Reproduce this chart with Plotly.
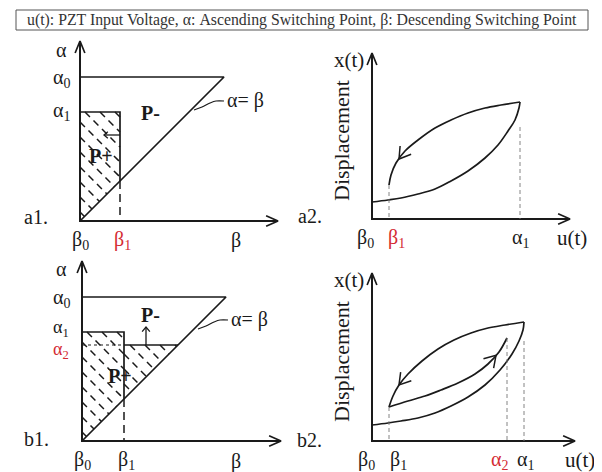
import numpy as np
import plotly.graph_objects as go

W, H = 602, 472
FONT = "Liberation Serif, Times New Roman, serif"
RED = "#d42a32"
INK = "#1a1a1a"

TITLE = "u(t): PZT Input Voltage, α: Ascending Switching Point, β: Descending Switching Point"

# ---------------- data (diagram units) ----------------
# a1 : Preisach plane after descending from alpha1 to beta1
A1_ALPHA = [144, 109]            # alpha0, alpha1
A1_BETA = [0, 40]                # beta0, beta1
A1_AXIS = [198, 180]             # beta-axis length, alpha-axis length

# b1 : Preisach plane after ascending again to alpha2
B1_ALPHA = [144, 109, 96]        # alpha0, alpha1, alpha2
B1_BETA = [0, 42]                # beta0, beta1
B1_AXIS = [199, 180]

# a2 : displacement vs input voltage (major ascending branch + descent)
A2_LOW_U = [0, 16, 29, 46, 63, 79, 96, 113, 126, 136, 143, 147, 148]
A2_LOW_X = [17, 19, 21, 25, 30, 38, 48, 61, 74, 88, 99, 111, 117]
A2_DESC_U = [148, 129, 113, 96, 79, 63, 46, 33, 24, 19, 17]
A2_DESC_X = [117, 114, 111, 106, 99, 91, 79, 68, 56, 44, 34]
A2_TICKS = [0, 17, 148]          # beta0, beta1, alpha1
A2_AXIS = [198, 166]

# b2 : displacement vs input voltage (minor loop)
B2_LOW_U = [0, 16, 29, 46, 63, 79, 96, 113, 128, 140, 147, 151, 152]
B2_LOW_X = [16, 18, 20, 23, 28, 35, 44, 56, 71, 87, 100, 111, 119]
B2_DESC_U = [152, 133, 116, 99, 82, 66, 50, 36, 27, 21, 17]
B2_DESC_X = [119, 116, 113, 108, 101, 92, 80, 67, 56, 45, 34]
B2_ASC_U = [17, 36, 53, 69, 86, 103, 116, 127, 135]
B2_ASC_X = [34, 40, 45, 51, 58, 67, 77, 89, 103]
B2_TICKS = [0, 17, 135, 152]     # beta0, beta1, alpha2, alpha1
B2_AXIS = [203, 168]

# ---------------- layout: panel origins in page pixels ----------------
PANELS = ["a1", "a2", "b1", "b2"]
ORIGIN = {"a1": (72, 213), "a2": (364, 211), "b1": (74, 433), "b2": (364, 433)}

fig = go.Figure()
layout = dict(width=W, height=H, margin=dict(l=0, r=0, t=0, b=0),
              paper_bgcolor="white", plot_bgcolor="rgba(0,0,0,0)",
              showlegend=False, annotations=[], shapes=[])
AX = {}
for i, p in enumerate(PANELS):
    ox, oy = ORIGIN[p]
    sx = "" if i == 0 else str(i + 1)
    AX[p] = ("x" + sx, "y" + sx)
    xa = dict(range=[-ox, W - ox], domain=[0, 1], visible=False, fixedrange=True, anchor="y" + sx)
    ya = dict(range=[-(H - oy), oy], domain=[0, 1], visible=False, fixedrange=True, anchor="x" + sx)
    if i > 0:
        xa["overlaying"] = "x"
        ya["overlaying"] = "y"
    layout["xaxis" + sx] = xa
    layout["yaxis" + sx] = ya


def line(p, xs, ys, width=1.6, dash="solid", color=INK, shape="linear"):
    fig.add_trace(go.Scatter(x=xs, y=ys, mode="lines", xaxis=AX[p][0], yaxis=AX[p][1],
                             line=dict(color=color, width=width, dash=dash, shape=shape),
                             hoverinfo="skip", showlegend=False))


def text(p, x, y, s, size=20, color=INK, bold=False, xanchor="center", angle=0, xs=0, ys=0):
    if bold:
        s = "<b>" + s + "</b>"
    layout["annotations"].append(dict(x=x, y=y, xref=AX[p][0], yref=AX[p][1], text=s,
                                      showarrow=False, xanchor=xanchor, yanchor="middle",
                                      textangle=angle, xshift=xs, yshift=ys,
                                      font=dict(family=FONT, size=size, color=color)))


def arrowhead(p, tip, d, L=12, ang=25, width=1.6):
    d = np.array(d, float)
    d = d / np.linalg.norm(d)
    back = -d
    pts = []
    for s in (-1, 1):
        a = np.radians(ang) * s
        r = np.array([back[0] * np.cos(a) - back[1] * np.sin(a),
                      back[0] * np.sin(a) + back[1] * np.cos(a)])
        pts.append(np.array(tip) + L * r)
    line(p, [pts[0][0], tip[0], pts[1][0]], [pts[0][1], tip[1], pts[1][1]], width=width)


def axes(p, ext):
    line(p, [0, 0, ext[0]], [ext[1], 0, 0], width=2)
    arrowhead(p, (0, ext[1]), (0, 1), L=13, ang=22, width=1.7)
    arrowhead(p, (ext[0], 0), (1, 0), L=13, ang=24, width=1.7)


def hatch(p, pieces, step, kmax):
    xs, ys = [], []
    for k in np.arange(step * 0.6, kmax, step):
        for xlo, xhi, ytop in pieces:
            a = max(xlo, k - ytop)
            b = min(xhi, k / 2)
            if b > a + 1:
                xs += [a, b, None]
                ys += [k - a, k - b, None]
    line(p, xs, ys, width=1.5, dash="7px,5px")


def curve_arrow(p, us, xs, u_at, forward_sign):
    us = np.array(us, float)
    xs = np.array(xs, float)
    order = np.argsort(us)
    ui, xi = us[order], xs[order]
    x0 = np.interp(u_at, ui, xi)
    x1 = np.interp(u_at + 2, ui, xi)
    d = np.array([2.0, x1 - x0]) * forward_sign
    arrowhead(p, (u_at, x0), d, L=13, ang=32, width=1.5)


# ---------------- a1 ----------------
a0, a1 = A1_ALPHA
b0, b1 = A1_BETA
axes("a1", A1_AXIS)
line("a1", [0, a0, 0], [a0, a0, 0], width=1.7)
line("a1", [0, b1, b1], [a1, a1, b1], width=1.7)
line("a1", [b1, b1], [b1, 0], width=1.5, dash="8px,5px")
hatch("a1", [(0, b1, a1)], 15, a1 + b1)
line("a1", [b1, b1 - 16], [86, 86], width=1.3)
arrowhead("a1", (b1 - 16, 86), (-1, 0), L=5, ang=40, width=1.3)
line("a1", [114, 122, 130, 136, 144], [111, 114, 118, 120, 120], width=1.2, shape="spline")
text("a1", 145, 121, "α= β", xanchor="left")
text("a1", 70, 108, "P-", size=20, bold=True)
text("a1", 21, 65, "P+", size=20, bold=True)
text("a1", -19, a0, "α<sub>0</sub>", ys=-1)
text("a1", -19, a1, "α<sub>1</sub>", ys=1)
text("a1", -19, A1_AXIS[1] - 9, "α")
text("a1", -44, 0, "a1.", ys=4)
text("a1", b0, 0, "β<sub>0</sub>", ys=-19)
text("a1", b1 + 2, 0, "β<sub>1</sub>", color=RED, ys=-19)
text("a1", 156, 0, "β", ys=-19)

# ---------------- b1 ----------------
a0, a1, a2 = B1_ALPHA
b0, b1 = B1_BETA
axes("b1", B1_AXIS)
line("b1", [0, a0, 0], [a0, a0, 0], width=1.7)
line("b1", [0, b1, b1], [a1, a1, b1], width=1.7)
line("b1", [b1, b1], [b1, 0], width=1.5, dash="8px,5px")
line("b1", [0, b1], [a2, a2], width=1.1, dash="dot")
line("b1", [b1, a2], [a2, a2], width=1.7)
hatch("b1", [(0, b1, a1), (b1, a2, a2)], 15, 2 * a2)
line("b1", [64, 64], [a2, a2 + 18], width=1.3)
arrowhead("b1", (64, a2 + 18), (0, 1), L=6, ang=40, width=1.3)
line("b1", [116, 124, 132, 138, 146], [112, 115, 119, 121, 121], width=1.2, shape="spline")
text("b1", 147, 122, "α= β", xanchor="left")
text("b1", 68, 126, "P-", size=20, bold=True)
text("b1", 38, 65, "P+", size=20, bold=True)
text("b1", -21, a0, "α<sub>0</sub>", ys=-1)
text("b1", -21, a1, "α<sub>1</sub>", size=18, ys=4)
text("b1", -21, a2, "α<sub>2</sub>", size=18, color=RED, ys=-5)
text("b1", -21, B1_AXIS[1] - 8, "α")
text("b1", -46, 0, "b1.", ys=2)
text("b1", b0, 0, "β<sub>0</sub>", ys=-19)
text("b1", b1 + 2, 0, "β<sub>1</sub>", ys=-19)
text("b1", 154, 0, "β", ys=-20)

# ---------------- a2 ----------------
axes("a2", A2_AXIS)
line("a2", A2_LOW_U, A2_LOW_X, width=1.7, shape="spline")
line("a2", A2_DESC_U, A2_DESC_X, width=1.7, shape="spline")
curve_arrow("a2", A2_DESC_U, A2_DESC_X, 27, -1)
line("a2", [A2_TICKS[1], A2_TICKS[1]], [A2_DESC_X[-1], 0], width=0.9, dash="4px,3px", color="#777")
line("a2", [A2_TICKS[2], A2_TICKS[2]], [A2_LOW_X[-4] + 4, 0], width=0.9, dash="4px,3px", color="#777")
text("a2", -23, 159, "x(t)", size=21)
text("a2", -31, 78, "Displacement", size=22, angle=-90)
text("a2", -62, 0, "a2.", ys=3)
text("a2", A2_TICKS[0] - 7, 0, "β<sub>0</sub>", ys=-19)
text("a2", A2_TICKS[1] + 7, 0, "β<sub>1</sub>", color=RED, ys=-19)
text("a2", A2_TICKS[2], 0, "α<sub>1</sub>", ys=-19)
text("a2", 200, 0, "u(t)", size=21, ys=-19)

# ---------------- b2 ----------------
axes("b2", B2_AXIS)
line("b2", B2_LOW_U, B2_LOW_X, width=1.7, shape="spline")
line("b2", B2_DESC_U, B2_DESC_X, width=1.7, shape="spline")
line("b2", B2_ASC_U, B2_ASC_X, width=1.7, shape="spline")
curve_arrow("b2", B2_DESC_U, B2_DESC_X, 27, -1)
curve_arrow("b2", B2_ASC_U, B2_ASC_X, 124, 1)
line("b2", [B2_TICKS[1], B2_TICKS[1]], [B2_DESC_X[-1], 0], width=0.9, dash="4px,3px", color="#777")
line("b2", [B2_TICKS[2], B2_TICKS[2]], [B2_ASC_X[-1], 0], width=0.9, dash="4px,3px", color="#777")
line("b2", [B2_TICKS[3], B2_TICKS[3]], [B2_LOW_X[-3], 0], width=0.9, dash="4px,3px", color="#777")
text("b2", -23, 161, "x(t)", size=21)
text("b2", -31, 79, "Displacement", size=22, angle=-90)
text("b2", -63, 0, "b2.", ys=1)
text("b2", B2_TICKS[0] - 6, 0, "β<sub>0</sub>", ys=-19)
text("b2", B2_TICKS[1] + 9, 0, "β<sub>1</sub>", ys=-19)
text("b2", B2_TICKS[2] - 8, 0, "α<sub>2</sub>", color=RED, ys=-19)
text("b2", B2_TICKS[3] + 1, 0, "α<sub>1</sub>", ys=-19)
text("b2", 208, 0, "u(t)", size=21, ys=-19)

# ---------------- title box ----------------
layout["shapes"].append(dict(type="rect", xref="paper", yref="paper",
                             x0=8 / W, x1=580 / W, y0=1 - 22 / H, y1=1 - 2 / H,
                             line=dict(color="#555", width=1), fillcolor="white"))
layout["annotations"].append(dict(x=294 / W, y=1 - 12 / H, xref="paper", yref="paper",
                                  text=TITLE, showarrow=False, xanchor="center", yanchor="middle",
                                  font=dict(family=FONT, size=15.8, color="#333")))

fig.update_layout(**layout)
fig.write_html("out.html")
